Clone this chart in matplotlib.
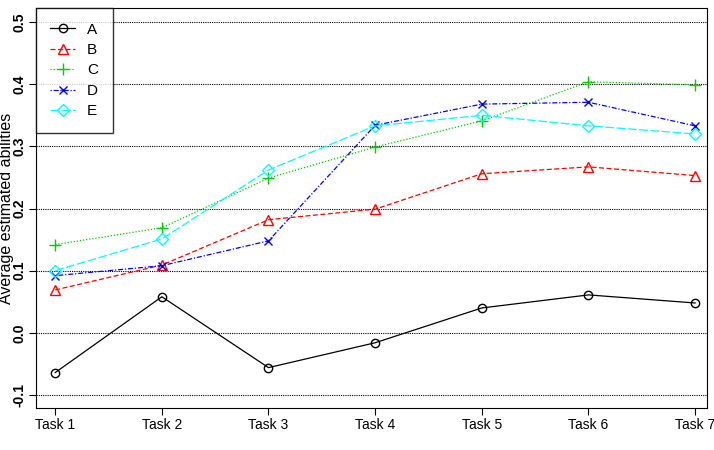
import matplotlib
matplotlib.use("Agg")
import matplotlib.pyplot as plt
import numpy as np

plt.rcParams['font.family'] = ['Liberation Sans', 'DejaVu Sans']

tasks = ["Task 1", "Task 2", "Task 3", "Task 4", "Task 5", "Task 6", "Task 7"]
A = [-0.064, 0.058, -0.056, -0.016, 0.040, 0.061, 0.048]
B = [0.069, 0.109, 0.182, 0.199, 0.256, 0.267, 0.253]
C = [0.142, 0.169, 0.249, 0.299, 0.341, 0.404, 0.399]
D = [0.092, 0.108, 0.148, 0.334, 0.368, 0.371, 0.333]
E = [0.100, 0.151, 0.262, 0.333, 0.350, 0.333, 0.320]
yticks = [-0.1, 0.0, 0.1, 0.2, 0.3, 0.4, 0.5]
ytick_labels = ["-0.1", "0.0", "0.1", "0.2", "0.3", "0.4", "0.5"]

fig = plt.figure(figsize=(7.14, 4.5), dpi=100)
ax = fig.add_axes([0.0504, 0.0933, 0.9396, 0.8887])
x = np.arange(1, len(tasks) + 1)

for yv in yticks:
    ax.axhline(yv, color='black', lw=0.8, ls=(0, (1, 1)), zorder=1)

ax.plot(x, A, color='black', ls='-', marker='o', mfc='none', ms=6, mew=1, lw=0.9, label='A')
ax.plot(x, B, color='red', ls=(0, (4, 2)), marker='^', mfc='none', ms=7, mew=1, lw=0.9, label='B')
ax.plot(x, C, color='#00cc00', ls=(0, (1, 1.5)), marker='+', ms=8, mew=1, lw=0.9, label='C')
ax.plot(x, D, color='blue', ls=(0, (1, 1.5, 4, 1.5)), marker='x', ms=6, mew=1, lw=0.9, label='D')
ax.plot(x, E, color='cyan', ls=(0, (7, 2)), marker='D', mfc='none', ms=6, mew=1, lw=0.9, label='E')

ax.set_xlim(0.82, 7.11)
ax.set_ylim(-0.121, 0.5225)
ax.set_xticks(x)
ax.set_xticklabels(tasks, fontsize=10)
ax.set_yticks(yticks)
ax.set_yticklabels(ytick_labels, fontsize=10, rotation=90, va='center', fontweight='bold')
ax.set_ylabel("Average estimated abilities", fontsize=11.5)
ax.yaxis.set_label_coords(-0.033, 0.5)
ax.tick_params(axis='both', direction='out', length=5, width=0.8, pad=2)

leg = ax.legend(loc='upper left', fontsize=11, frameon=True, fancybox=False,
                borderaxespad=0, handlelength=1.6, borderpad=0.95, labelspacing=0.42,
                handletextpad=0.8)
leg.get_frame().set_edgecolor('black')
leg.get_frame().set_linewidth(1)

fig.savefig("out.png", dpi=100)
